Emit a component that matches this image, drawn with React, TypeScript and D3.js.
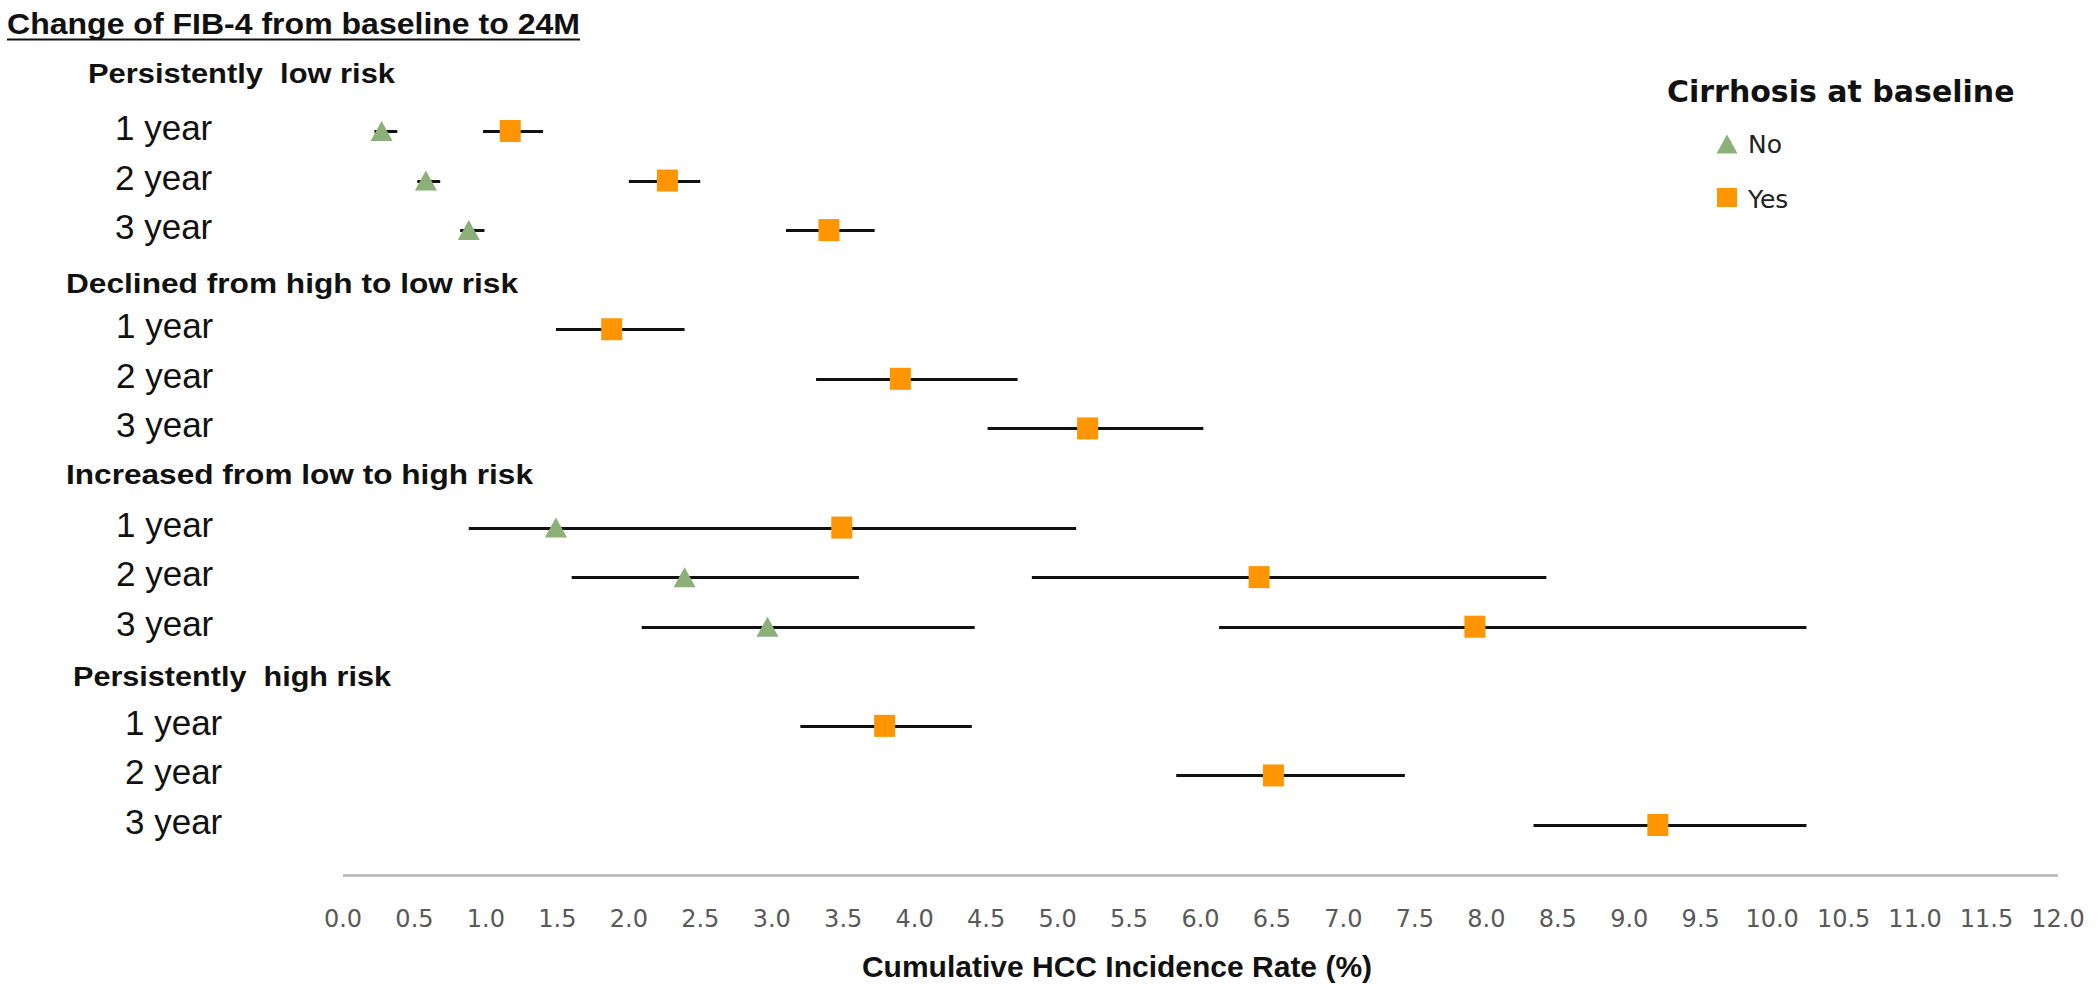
import React from 'react'
import * as d3 from 'd3'

const W = 2100
const H = 1002

// groups and time points, top to bottom
const GROUPS = ['Persistently  low risk', 'Declined from high to low risk', 'Increased from low to high risk', 'Persistently  high risk']
const YEARS = ['1 year', '2 year', '3 year']

// cumulative HCC incidence (%), 12 rows = 4 groups x 3 years; null = not shown
const NO_EST = [0.27, 0.58, 0.88, null, null, null, 1.49, 2.39, 2.97, null, null, null]
const NO_LOW = [0.22, 0.52, 0.82, null, null, null, 0.88, 1.6, 2.09, null, null, null]
const NO_HIGH = [0.38, 0.68, 0.99, null, null, null, 2.6, 3.61, 4.42, null, null, null]

const YES_EST = [1.17, 2.27, 3.4, 1.88, 3.9, 5.21, 3.49, 6.41, 7.92, 3.79, 6.51, 9.2]
const YES_LOW = [0.98, 2.0, 3.1, 1.49, 3.31, 4.51, 2.3, 4.82, 6.13, 3.2, 5.83, 8.33]
const YES_HIGH = [1.4, 2.5, 3.72, 2.39, 4.72, 6.02, 5.13, 8.42, 10.24, 4.4, 7.43, 10.24]

const X_TICKS = d3.range(0, 12.01, 0.5)

const GREEN = '#8cb178'
const ORANGE = '#ff9500'
const ARIAL = '"Liberation Sans", Arial, sans-serif'
const TAHOMA = '"DejaVu Sans", Verdana, sans-serif'

// header text boxes are placed a little unevenly in the original
const HEADER_X = [88, 66, 66, 73]
const HEADER_DY = [2, 13, 6, 10]
const HEADER_LEN = [307, 452, 467, 318]
const LABEL_X = [115, 116, 116, 125]

const triPath = (cx: number, cy: number, w = 22, h = 20) =>
  `M${cx - w / 2},${cy + h / 2}L${cx},${cy - h / 2}L${cx + w / 2},${cy + h / 2}Z`

export default function App() {
  // row keys: header then the three years, for each group
  const rowKeys: string[] = []
  GROUPS.forEach((g, gi) => {
    rowKeys.push(`h${gi}`)
    YEARS.forEach((_, yi) => rowKeys.push(`r${gi}-${yi}`))
  })

  const x = d3.scaleLinear().domain([0, 12]).range([343, 2058])
  const y = d3.scalePoint<string>().domain(rowKeys).range([81.4, 825])
  const yl = (k: string) => Math.round(y(k)!) + 0.5

  const dataRows = GROUPS.flatMap((g, gi) =>
    YEARS.map((yr, yi) => {
      const i = gi * 3 + yi
      return {
        key: `r${gi}-${yi}`,
        group: gi,
        label: yr,
        no: NO_EST[i] == null ? null : { est: NO_EST[i]!, lo: NO_LOW[i]!, hi: NO_HIGH[i]! },
        yes: { est: YES_EST[i], lo: YES_LOW[i], hi: YES_HIGH[i] }
      }
    })
  )

  const axisY = 875.5

  return (
    <svg width={W} height={H} style={{ position: 'absolute', left: 0, top: 0, background: '#fff' }}>
      {/* title */}
      <text x={7} y={34} fontFamily={ARIAL} fontWeight="bold" fontSize={30} textLength={573} lengthAdjust="spacingAndGlyphs" fill="#111">
        Change of FIB-4 from baseline to 24M
      </text>
      <line x1={7} x2={580} y1={39.5} y2={39.5} stroke="#111" strokeWidth={2} />

      {/* group headers */}
      {GROUPS.map((g, gi) => (
        <text
          key={g}
          x={HEADER_X[gi]}
          y={y(`h${gi}`)! + HEADER_DY[gi]}
          fontFamily={ARIAL}
          fontWeight="bold"
          fontSize={27}
          textLength={HEADER_LEN[gi]}
          lengthAdjust="spacingAndGlyphs"
          fill="#111"
          style={{ whiteSpace: 'pre' }}
        >
          {g}
        </text>
      ))}

      {/* year labels */}
      {dataRows.map(r => (
        <text key={r.key + 'l'} x={LABEL_X[r.group]} y={y(r.key)! + 9} fontFamily={ARIAL} fontSize={35} fill="#111">
          {r.label}
        </text>
      ))}

      {/* error bars */}
      {dataRows.map(r => (
        <g key={r.key + 'e'} stroke="#111" strokeWidth={3}>
          {r.no && <line x1={x(r.no.lo)} x2={x(r.no.hi)} y1={yl(r.key)} y2={yl(r.key)} />}
          <line x1={x(r.yes.lo)} x2={x(r.yes.hi)} y1={yl(r.key)} y2={yl(r.key)} />
        </g>
      ))}

      {/* markers */}
      {dataRows.map(r => (
        <g key={r.key + 'm'}>
          {r.no && <path d={triPath(x(r.no.est), y(r.key)!)} fill={GREEN} />}
          <rect x={x(r.yes.est) - 10.5} y={y(r.key)! - 11} width={21} height={22} fill={ORANGE} />
        </g>
      ))}

      {/* x axis */}
      <line x1={x(0)} x2={x(12)} y1={axisY} y2={axisY} stroke="#b4b4b4" strokeWidth={2.5} />
      {X_TICKS.map(t => (
        <text key={t} x={x(t)} y={927} textAnchor="middle" fontFamily={TAHOMA} fontSize={24} fill="#595959">
          {t.toFixed(1)}
        </text>
      ))}
      <text x={1117} y={977} textAnchor="middle" fontFamily={ARIAL} fontWeight="bold" fontSize={30} fill="#111">
        Cumulative HCC Incidence Rate (%)
      </text>

      {/* legend */}
      <text x={1667} y={102} fontFamily={TAHOMA} fontWeight="bold" fontSize={30} fill="#111">
        Cirrhosis at baseline
      </text>
      <path d={triPath(1727, 144, 21, 19)} fill={GREEN} />
      <text x={1748} y={153} fontFamily={TAHOMA} fontSize={25} fill="#222">No</text>
      <rect x={1717} y={188} width={20} height={19} fill={ORANGE} />
      <text x={1748} y={208} fontFamily={TAHOMA} fontSize={25} fill="#222">Yes</text>
    </svg>
  )
}
